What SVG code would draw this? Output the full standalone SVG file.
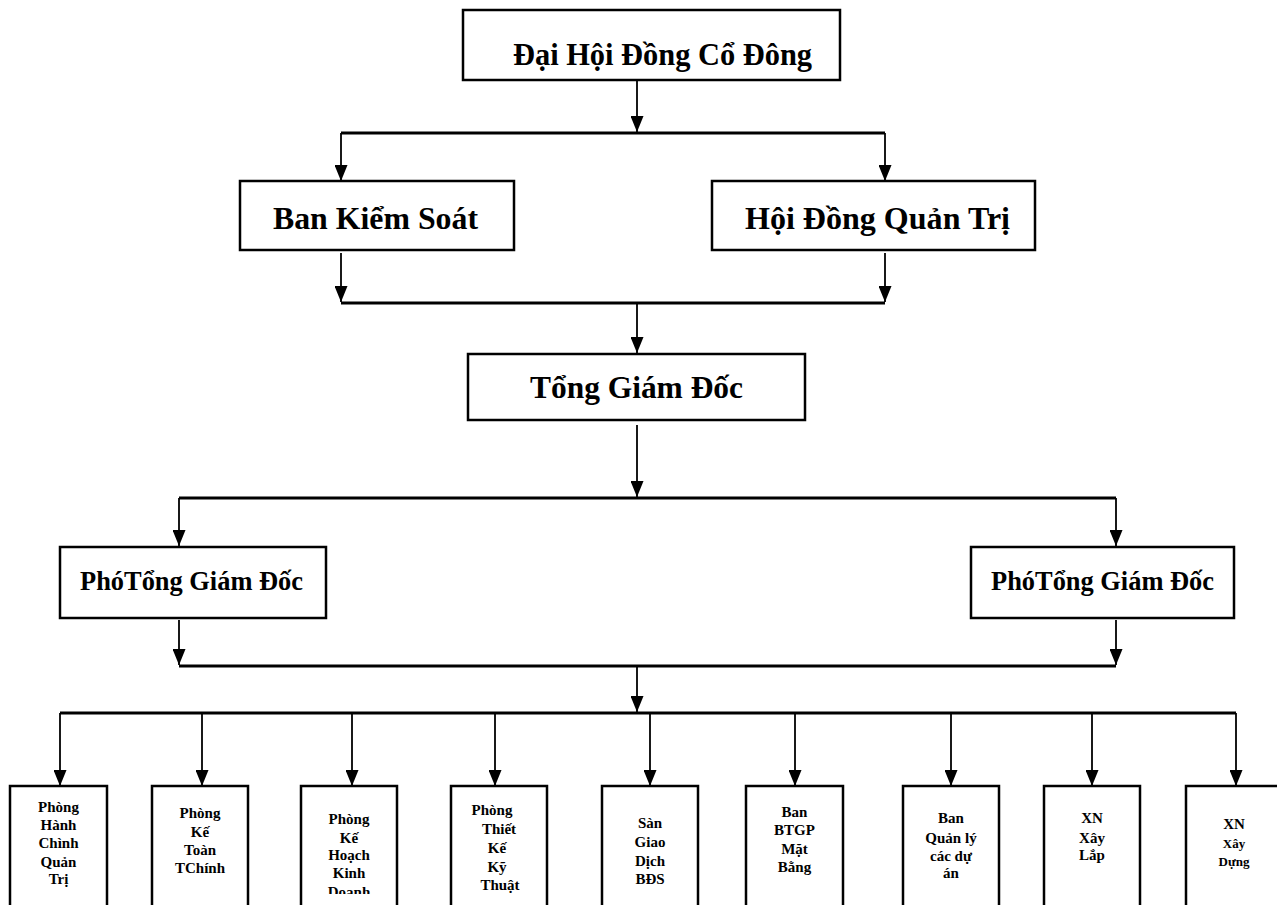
<svg xmlns="http://www.w3.org/2000/svg" width="1277" height="905" viewBox="0 0 1277 905">
<style>
.box{fill:#fff;stroke:#000;stroke-width:2.5}
.big{font-family:"Liberation Serif","Times New Roman",serif;font-weight:bold;font-size:32px;fill:#000}
.mid{font-family:"Liberation Serif","Times New Roman",serif;font-weight:bold;font-size:27px;fill:#000}
.sm{font-family:"Liberation Serif","Times New Roman",serif;font-weight:bold;font-size:15px;fill:#000;text-anchor:middle}
.v{fill:none;stroke:#000;stroke-width:1.8;marker-end:url(#ah)}
.h{fill:none;stroke:#000;stroke-width:3}
</style>
<defs>
<marker id="ah" markerUnits="userSpaceOnUse" markerWidth="16" markerHeight="13" refX="16" refY="6.5" orient="auto">
<path d="M0,0 L16,6.5 L0,13 z" fill="#000"/>
</marker>
<clipPath id="clipB"><rect x="0" y="0" width="1277" height="894"/></clipPath>
</defs>
<rect width="1277" height="905" fill="#fff"/>

<g id="connectors">
<path class="v" d="M637,80 V132"/>
<path class="h" d="M341,133 H885"/>
<path class="v" d="M341,133 V181"/>
<path class="v" d="M885,133 V181"/>
<path class="v" d="M341,253 V302"/>
<path class="v" d="M885,253 V302"/>
<path class="h" d="M341,303 H885"/>
<path class="v" d="M637,303 V353"/>
<path class="v" d="M637,425 V497"/>
<path class="h" d="M179,498 H1116"/>
<path class="v" d="M179,498 V546"/>
<path class="v" d="M1116,498 V546"/>
<path class="v" d="M179,620 V665"/>
<path class="v" d="M1116,620 V665"/>
<path class="h" d="M179,666 H1116"/>
<path class="v" d="M637,666 V712"/>
<path class="h" d="M60,713 H1236"/>
<path class="v" d="M60,713 V786"/>
<path class="v" d="M202,713 V786"/>
<path class="v" d="M352,713 V786"/>
<path class="v" d="M495,713 V786"/>
<path class="v" d="M650,713 V786"/>
<path class="v" d="M795,713 V786"/>
<path class="v" d="M951,713 V786"/>
<path class="v" d="M1092,713 V786"/>
<path class="v" d="M1236,713 V786"/>
</g>

<g id="n-dhdcd">
<rect class="box" x="463" y="10" width="377" height="70"/>
<text class="big" x="513" y="65" font-size="35" textLength="299" lengthAdjust="spacingAndGlyphs">Đại Hội Đồng Cổ Đông</text>
</g>
<g id="n-bks">
<rect class="box" x="240" y="181" width="274" height="69"/>
<text class="big" x="273" y="229" textLength="205" lengthAdjust="spacingAndGlyphs">Ban Kiểm Soát</text>
</g>
<g id="n-hdqt">
<rect class="box" x="712" y="181" width="323" height="69"/>
<text class="big" x="745" y="229" textLength="265" lengthAdjust="spacingAndGlyphs">Hội Đồng Quản Trị</text>
</g>
<g id="n-tgd">
<rect class="box" x="468" y="354" width="337" height="66"/>
<text class="big" x="530" y="398" textLength="213" lengthAdjust="spacingAndGlyphs">Tổng Giám Đốc</text>
</g>
<g id="n-ptgd1">
<rect class="box" x="60" y="547" width="266" height="71"/>
<text class="mid" x="80" y="590" textLength="223" lengthAdjust="spacingAndGlyphs">PhóTổng Giám Đốc</text>
</g>
<g id="n-ptgd2">
<rect class="box" x="971" y="547" width="263" height="71"/>
<text class="mid" x="991" y="590" textLength="223" lengthAdjust="spacingAndGlyphs">PhóTổng Giám Đốc</text>
</g>

<g id="n-b1">
<rect class="box" x="10" y="786" width="97" height="130"/>
<g clip-path="url(#clipB)"><text class="sm"><tspan x="58.5" y="812">Phòng</tspan><tspan x="58.5" y="830">Hành</tspan><tspan x="58.5" y="848">Chình</tspan><tspan x="58.5" y="867">Quản</tspan><tspan x="58.5" y="884">Trị</tspan></text></g>
</g>
<g id="n-b2">
<rect class="box" x="152" y="786" width="96" height="130"/>
<text class="sm"><tspan x="200" y="818">Phòng</tspan><tspan x="200" y="837">Kế</tspan><tspan x="200" y="855">Toàn</tspan><tspan x="200" y="873">TChính</tspan></text>
</g>
<g id="n-b3">
<rect class="box" x="301" y="786" width="96" height="130"/>
<g clip-path="url(#clipB)"><text class="sm"><tspan x="349" y="824">Phòng</tspan><tspan x="349" y="843">Kế</tspan><tspan x="349" y="860">Hoạch</tspan><tspan x="349" y="878">Kinh</tspan><tspan x="349" y="897">Doanh</tspan></text></g>
</g>
<g id="n-b4">
<rect class="box" x="451" y="786" width="96" height="130"/>
<text class="sm"><tspan x="492" y="815">Phòng</tspan><tspan x="499" y="834">Thiết</tspan><tspan x="497" y="853">Kế</tspan><tspan x="497" y="872">Kỹ</tspan><tspan x="500" y="890">Thuật</tspan></text>
</g>
<g id="n-b5">
<rect class="box" x="602" y="786" width="96" height="130"/>
<text class="sm"><tspan x="650" y="828">Sàn</tspan><tspan x="650" y="847">Giao</tspan><tspan x="650" y="866">Dịch</tspan><tspan x="650" y="884">BĐS</tspan></text>
</g>
<g id="n-b6">
<rect class="box" x="746" y="786" width="97" height="130"/>
<text class="sm"><tspan x="794.5" y="817">Ban</tspan><tspan x="794.5" y="835">BTGP</tspan><tspan x="794.5" y="854">Mặt</tspan><tspan x="794.5" y="872">Bằng</tspan></text>
</g>
<g id="n-b7">
<rect class="box" x="903" y="786" width="96" height="130"/>
<text class="sm"><tspan x="951" y="823">Ban</tspan><tspan x="951" y="843">Quản lý</tspan><tspan x="951" y="861">các dự</tspan><tspan x="951" y="878">án</tspan></text>
</g>
<g id="n-b8">
<rect class="box" x="1044" y="786" width="96" height="130"/>
<text class="sm"><tspan x="1092" y="823">XN</tspan><tspan x="1092" y="843">Xây</tspan><tspan x="1092" y="860">Lắp</tspan></text>
</g>
<g id="n-b9">
<rect class="box" x="1186" y="786" width="96" height="130"/>
<text class="sm"><tspan x="1234" y="829">XN</tspan><tspan x="1234" y="848" font-size="13">Xây</tspan><tspan x="1234" y="866" font-size="13">Dựng</tspan></text>
</g>
</svg>
